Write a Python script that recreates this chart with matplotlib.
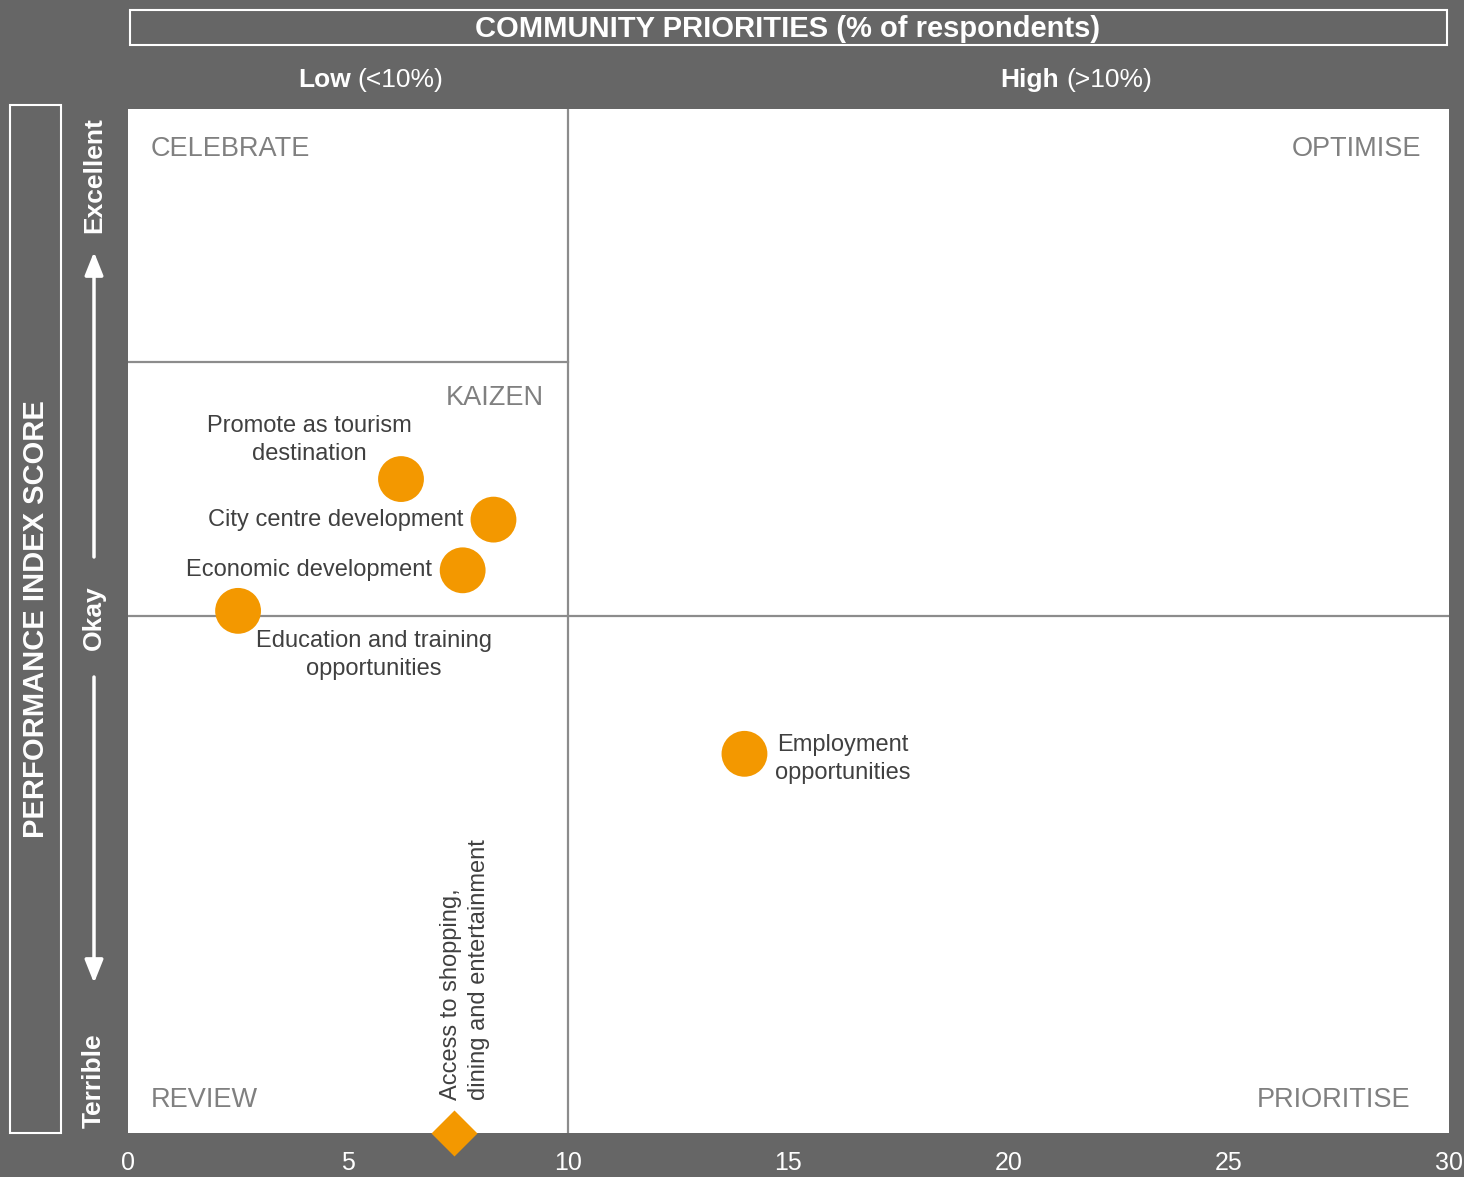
import numpy as np
import matplotlib.pyplot as plt
from matplotlib.patches import FancyArrowPatch, Rectangle

plt.rcParams['font.family'] = ['Liberation Sans', 'DejaVu Sans']

# data
issues = ['Promote as tourism\ndestination', 'City centre development',
          'Economic development', 'Education and training\nopportunities',
          'Employment\nopportunities']
priority = [6.2, 8.3, 7.6, 2.5, 14.0]
performance = [63.5, 59.5, 54.5, 50.5, 36.4]

low_issue = 'Access to shopping,\ndining and entertainment'
low_priority = 7.4
low_performance = -1.0

xticks = [0, 5, 10, 15, 20, 25, 30]
quadrants = ['CELEBRATE', 'OPTIMISE', 'KAIZEN', 'REVIEW', 'PRIORITISE']

# label placement (offset in points, ha, va)
label_pos = [((-66, 28), 'center', 'center'),
             ((-22, 0), 'right', 'center'),
             ((-22, 0), 'right', 'center'),
             ((98, -32), 'center', 'center'),
             ((22, -4), 'left', 'center')]

bg = '#666666'
orange = '#F39800'
txt = '#404040'
qgray = '#808080'
lgray = '#8c8c8c'

W, H = 1464, 1177
fig = plt.figure(figsize=(W / 100, H / 100), dpi=100, facecolor=bg)

def fx(px):
    return px / W

def fy(py):
    return 1 - py / H

ax = fig.add_axes([fx(128), fy(1133), fx(1449) - fx(128), fy(109) - fy(1133)])
ax.set_facecolor('white')
ax.set_xlim(0, 30)
ax.set_ylim(-1, 100)
for s in ax.spines.values():
    s.set_visible(False)
ax.set_yticks([])
ax.set_xticks(xticks)
ax.set_xticklabels([str(t) for t in xticks], color='white', fontsize=18)
ax.tick_params(axis='x', length=0, pad=13)

# quadrant lines
ax.axvline(10, color=lgray, lw=1.6, zorder=1)
ax.axhline(50, color=lgray, lw=1.6, zorder=1)
ax.plot([0, 10], [75, 75], color=lgray, lw=1.6, zorder=1)

# points
ax.scatter(priority, performance, s=33 ** 2, color=orange, edgecolors='none', zorder=3)
for name, x, y, (off, ha, va) in zip(issues, priority, performance, label_pos):
    ax.annotate(name, (x, y), xytext=off, textcoords='offset points',
                ha=ha, va=va, multialignment='center', linespacing=1.35,
                fontsize=17, color=txt, zorder=4)

ax.plot([low_priority], [low_performance], marker='D', ms=23, color=orange,
        mec='none', clip_on=False, zorder=5)
ax.annotate(low_issue, (low_priority, low_performance), xytext=(8, 24),
            textcoords='offset points', rotation=90, ha='center', va='bottom',
            multialignment='left', linespacing=1.35, fontsize=17, color=txt)

# quadrant names
qkw = dict(fontsize=19.5, color=qgray, transform=ax.transAxes, va='center')
ax.text((151 - 128) / 1321, 1 - 40 / 1024, quadrants[0], ha='left', **qkw)
ax.text((1421 - 128) / 1321, 1 - 40 / 1024, quadrants[1], ha='right', **qkw)
ax.text((544 - 128) / 1321, 1 - 289 / 1024, quadrants[2], ha='right', **qkw)
ax.text((151 - 128) / 1321, 1 - 991 / 1024, quadrants[3], ha='left', **qkw)
ax.text((1410 - 128) / 1321, 1 - 991 / 1024, quadrants[4], ha='right', **qkw)

# title box
fig.patches.append(Rectangle((fx(130), fy(45)), fx(1447) - fx(130), fy(10) - fy(45),
                             transform=fig.transFigure, fill=False,
                             edgecolor='white', lw=1.5))
fig.text(fx(788), fy(29), 'COMMUNITY PRIORITIES (% of respondents)', ha='center',
         va='center', fontsize=21, fontweight='bold', color='white')

fig.text(fx(351), fy(80), 'Low', ha='right', va='center', fontsize=19,
         fontweight='bold', color='white')
fig.text(fx(357), fy(80), '(<10%)', ha='left', va='center', fontsize=19, color='white')
fig.text(fx(1059), fy(80), 'High', ha='right', va='center', fontsize=19,
         fontweight='bold', color='white')
fig.text(fx(1066), fy(80), '(>10%)', ha='left', va='center', fontsize=19, color='white')

# left box
fig.patches.append(Rectangle((fx(10), fy(1133)), fx(61) - fx(10), fy(105) - fy(1133),
                             transform=fig.transFigure, fill=False,
                             edgecolor='white', lw=1.5))
fig.text(fx(36), fy(619), 'PERFORMANCE INDEX SCORE', rotation=90, ha='center',
         va='center', fontsize=21, fontweight='bold', color='white')

fig.text(fx(94), fy(175), 'Excellent', rotation=90, ha='center', va='center',
         fontsize=19, fontweight='bold', color='white')
fig.text(fx(94), fy(618), 'Okay', rotation=90, ha='center', va='center',
         fontsize=19, fontweight='bold', color='white')
fig.text(fx(94), fy(1081), 'Terrible', rotation=90, ha='center', va='center',
         fontsize=19, fontweight='bold', color='white')

akw = dict(arrowstyle='-|>,head_length=0.7,head_width=0.28', color='white', lw=2.5,
           mutation_scale=20, shrinkA=0, shrinkB=0)
fig.add_artist(FancyArrowPatch((fx(94), fy(557)), (fx(94), fy(252)),
                               transform=fig.transFigure, **akw))
fig.add_artist(FancyArrowPatch((fx(94), fy(677)), (fx(94), fy(983)),
                               transform=fig.transFigure, **akw))

fig.savefig('out.png', dpi=100, facecolor=bg)
